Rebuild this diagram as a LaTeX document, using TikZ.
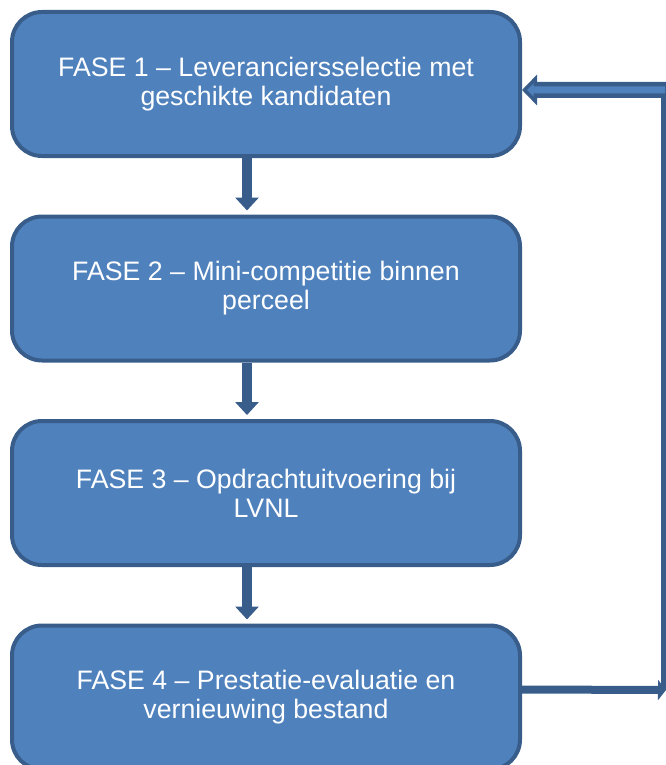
\documentclass[tikz,border=0pt]{standalone}
\usepackage{fontspec}
\setmainfont{Liberation Sans}
\usepackage{tikz}
\usetikzlibrary{arrows.meta}
\usetikzlibrary{positioning}
\definecolor{faseblue}{HTML}{4F81BD}
\definecolor{fasedark}{HTML}{385D8A}
\tikzset{
    fase/.style={draw=fasedark, fill=faseblue, line width=0.08cm, rounded corners=0.6cm,
        minimum width=10.16cm, minimum height=2.88cm, align=center, text=white,
        font=\fontsize{15.2}{16.5}\selectfont},
    flow/.style={draw=fasedark, line width=0.2cm, -{Triangle[width=0.46cm,length=0.26cm]}},
    back/.style={draw=fasedark, line width=0.16cm, -{Triangle[width=0.4cm,length=0.16cm]}},
    loopline/.style={draw=fasedark, line width=0.1cm},
    returnouter/.style={draw=fasedark, line width=0.32cm,
        -{Triangle[width=0.6cm,length=0.3cm,line width=0.07cm,fill=faseblue]}},
    returninner/.style={draw=faseblue, line width=0.14cm, shorten >=0.22cm}
}
\begin{document}
\begin{tikzpicture}[node distance=1.13cm]
    \useasboundingbox (0,0) rectangle (13.32,-15.3);
    \node[fase] (f1) at (5.32,-1.68) {FASE 1 – Leveranciersselectie met\\geschikte kandidaten};
    \node[fase, below=of f1] (f2) {FASE 2 – Mini-competitie binnen\\perceel};
    \node[fase, below=of f2] (f3) {FASE 3 – Opdrachtuitvoering bij\\LVNL};
    \node[fase, below=of f3] (f4) {FASE 4 – Prestatie-evaluatie en\\vernieuwing bestand};
    \draw[flow, shorten >=0.08cm] ([xshift=-0.38cm]f1.south) -- ([xshift=-0.38cm]f2.north);
    \draw[flow, shorten >=0.08cm] ([xshift=-0.38cm]f2.south) -- ([xshift=-0.38cm]f3.north);
    \draw[flow, shorten >=0.08cm] ([xshift=-0.38cm]f3.south) -- ([xshift=-0.38cm]f4.north);
    \coordinate (rb) at (13.26,-13.8);
    \coordinate (rt) at (13.26,-1.8);
    \draw[back] ([yshift=0.16cm]f4.east) -- ([xshift=0.06cm]rb);
    \draw[loopline] (rb) -- (rt);
    \draw[returnouter] ([xshift=0.06cm]rt) -- ([yshift=-0.12cm]f1.east);
    \draw[returninner] ([xshift=0.04cm]rt) -- ([yshift=-0.12cm]f1.east);
\end{tikzpicture}
\end{document}
